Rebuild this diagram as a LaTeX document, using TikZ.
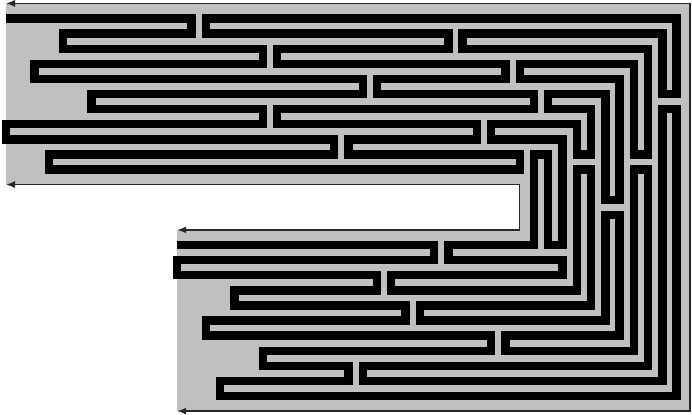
\documentclass[tikz,border=0pt]{standalone}
\usetikzlibrary{arrows.meta}
\definecolor{mazegray}{RGB}{192,192,192}
\definecolor{edgegray}{RGB}{40,40,40}
\begin{document}
\begin{tikzpicture}[x=14.27pt,y=-15.1pt,
  wall/.style={line width=8.4pt, line join=miter, line cap=butt, draw=black},
  rim/.style={line width=1.3pt, draw=edgegray, {Latex[length=9pt,width=7pt]}-{Latex[length=9pt,width=7pt]}}]
\useasboundingbox (-0.4205,-1.2252) rectangle (48.073,26.258);
\fill[mazegray] (0,-1) -- (47.93,-1) -- (47.93,26) -- (12,26) -- (12,14) -- (36,14) -- (36,11) -- (0,11) -- cycle;
\draw[rim] (0,-1) -- (47.93,-1) -- (47.93,26) -- (12,26);
\draw[rim] (0,11) -- (36,11) -- (36,14) -- (12,14);
\draw[wall] (0,0) -- (13,0) -- (13,1) -- (4,1) -- (4,2) -- (18,2) -- (18,3) -- (2,3) -- (2,4) -- (25,4) -- (25,5) -- (6,5) -- (6,6) -- (18,6) -- (18,7) -- (0,7) -- (0,8) -- (23,8) -- (23,9) -- (3,9) -- (3,10) -- (36,10) -- (36,9) -- (24,9) -- (24,8) -- (33,8) -- (33,7) -- (19,7) -- (19,6) -- (37,6) -- (37,5) -- (26,5) -- (26,4) -- (35,4) -- (35,3) -- (19,3) -- (19,2) -- (31,2) -- (31,1) -- (14,1) -- (14,0) -- (47,0) -- (47,5) -- (46,5) -- (46,1) -- (32,1) -- (32,2) -- (45,2) -- (45,9) -- (44,9) -- (44,3) -- (36,3) -- (36,4) -- (43,4) -- (43,12) -- (42,12) -- (42,5) -- (38,5) -- (38,6) -- (41,6) -- (41,9) -- (40,9) -- (40,7) -- (34,7) -- (34,8) -- (39,8) -- (39,15) -- (38,15) -- (38,9) -- (37,9) -- (37,15) -- (31,15) -- (31,16) -- (39,16) -- (39,17) -- (27,17) -- (27,18) -- (40,18) -- (40,10) -- (41,10) -- (41,19) -- (29,19) -- (29,20) -- (42,20) -- (42,13) -- (43,13) -- (43,21) -- (35,21) -- (35,22) -- (44,22) -- (44,10) -- (45,10) -- (45,23) -- (25,23) -- (25,24) -- (46,24) -- (46,6) -- (47,6) -- (47,25) -- (15,25) -- (15,24) -- (24,24) -- (24,23) -- (18,23) -- (18,22) -- (34,22) -- (34,21) -- (14,21) -- (14,20) -- (28,20) -- (28,19) -- (16,19) -- (16,18) -- (26,18) -- (26,17) -- (12,17) -- (12,16) -- (30,16) -- (30,15) -- (12,15);
\end{tikzpicture}
\end{document}
